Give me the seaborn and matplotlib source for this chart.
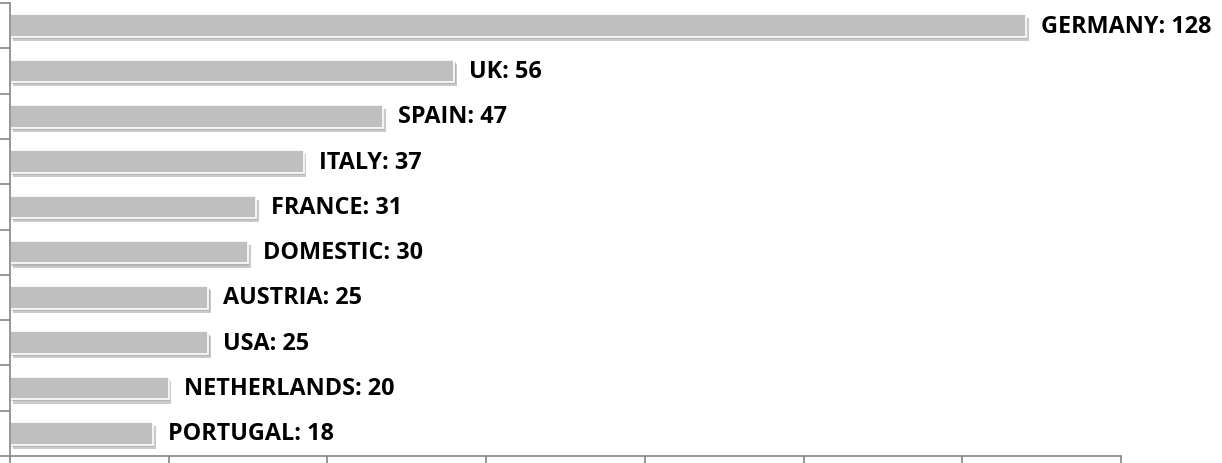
import matplotlib
matplotlib.use("Agg")
import matplotlib.pyplot as plt
import matplotlib.patheffects as pe
import numpy as np
import pandas as pd
import seaborn as sns

countries = ["GERMANY", "UK", "SPAIN", "ITALY", "FRANCE", "DOMESTIC",
             "AUSTRIA", "USA", "NETHERLANDS", "PORTUGAL"]
values = [128, 56, 47, 37, 31, 30, 25, 25, 20, 18]

df = pd.DataFrame({"country": countries, "value": values})

sns.set_style("white")
plt.rcParams["font.family"] = ["Open Sans", "DejaVu Sans"]

fig = plt.figure(figsize=(12.22, 4.64), dpi=100)
ax = fig.add_axes([10 / 1222, 1 - 457 / 464, 1111 / 1222, 453 / 464])

sns.barplot(data=df, x="value", y="country", orient="h", color="#bfbfbf",
            saturation=1, width=0.5, ax=ax)

# soft drop shadow, Excel style
shadow = [pe.SimplePatchShadow(offset=(2, -3), shadow_rgbFace="#8a8a8a", alpha=0.45),
          pe.SimplePatchShadow(offset=(1, -1.5), shadow_rgbFace="#a0a0a0", alpha=0.5),
          pe.Normal()]
for p in ax.patches:
    p.set_edgecolor("white")
    p.set_linewidth(1.2)
    p.set_path_effects(shadow)

for i, (c, v) in enumerate(zip(countries, values)):
    ax.text(v + 1.9, i, f"{c}: {v}", va="center", ha="left",
            fontsize=16.8, fontweight="bold", color="black")

ax.set_xlim(0, 140)
ax.set_ylim(9.5, -0.5)
ax.set_xticks(np.arange(0, 141, 20))
ax.set_xticklabels([])
ax.set_yticks([])
ax.set_yticks(np.arange(-0.5, 10, 1), minor=True)
ax.tick_params(axis="x", which="major", bottom=True, direction="out",
               length=7, width=1.2, color="#868686")
ax.tick_params(axis="y", which="minor", left=True, direction="out",
               length=7, width=1.2, color="#868686")
ax.set_xlabel("")
ax.set_ylabel("")
for s in ["top", "right"]:
    ax.spines[s].set_visible(False)
for s in ["left", "bottom"]:
    ax.spines[s].set_color("#868686")
    ax.spines[s].set_linewidth(1.2)

fig.savefig("out.png", dpi=100)
